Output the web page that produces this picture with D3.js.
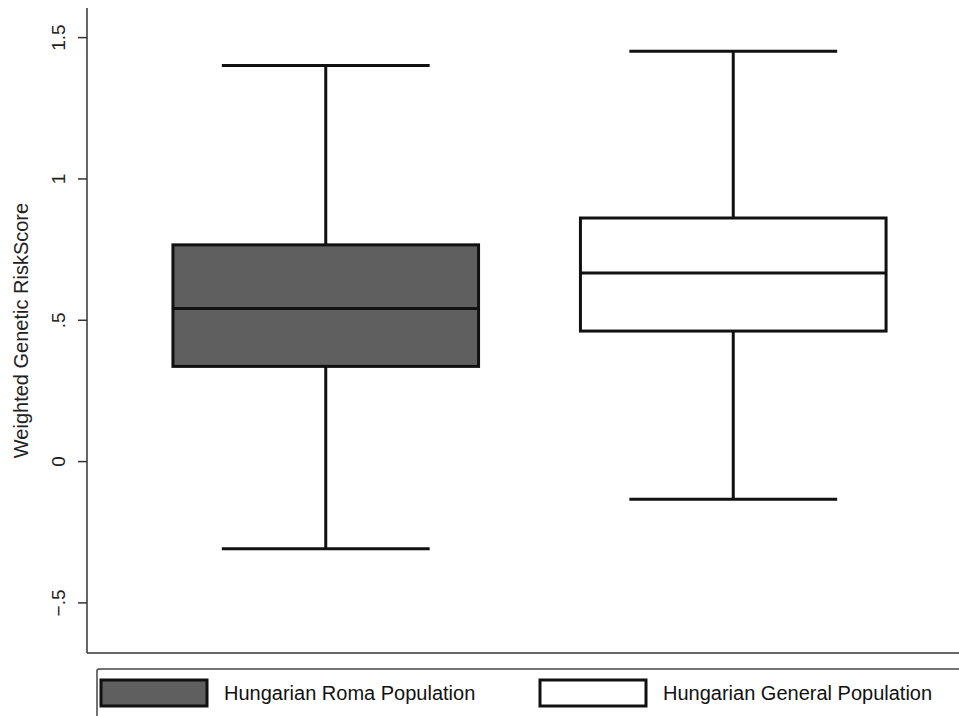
<!DOCTYPE html>
<html>
<head>
<meta charset="utf-8">
<script src="https://cdn.jsdelivr.net/npm/d3@7"></script>
<style>
  body { margin: 0; background: #fff; }
  svg { display: block; font-family: "Liberation Sans", Arial, sans-serif; }
</style>
</head>
<body>
<svg id="viz" width="959" height="716"></svg>
<script>
// groups and box stats
var groups = ["Hungarian Roma Population", "Hungarian General Population"];
var groupFill = ["#5f5f5f", "#ffffff"];
var lowWhisker = [-0.31, -0.135];
var q1 = [0.335, 0.46];
var median = [0.54, 0.665];
var q3 = [0.765, 0.86];
var highWhisker = [1.40, 1.45];
var yTicks = [-0.5, 0, 0.5, 1, 1.5];
var yTickLabels = ["\u2212.5", "0", ".5", "1", "1.5"];

var svg = d3.select('svg#viz');
var W = 959, H = 716;

var x = d3.scaleBand()
    .domain(groups)
    .range([122, 937])
    .paddingInner(0.25)
    .paddingOuter(0.125);

var y = d3.scaleLinear()
    .domain([-0.679, 1.603])
    .range([653, 8]);

var boxes = groups.map(function(g, i) {
    return { name: g, fill: groupFill[i], lo: lowWhisker[i], q1: q1[i], med: median[i], q3: q3[i], hi: highWhisker[i] };
});

var stroke = "#111";

// axis frame
svg.append('line').attr('x1', 87).attr('x2', 87).attr('y1', 8).attr('y2', 653)
    .attr('stroke', '#333').attr('stroke-width', 1.5);
svg.append('line').attr('x1', 87).attr('x2', W).attr('y1', 653).attr('y2', 653)
    .attr('stroke', '#333').attr('stroke-width', 1.5);

var yAxis = d3.axisLeft(y)
    .tickValues(yTicks)
    .tickSize(9)
    .tickPadding(0)
    .tickFormat(function(d, i) { return yTickLabels[i]; });

var gy = svg.append('g').attr('transform', 'translate(87,0)').call(yAxis);
gy.select('.domain').remove();
gy.selectAll('.tick line').attr('stroke', '#333').attr('stroke-width', 1.5);
gy.selectAll('.tick text')
    .attr('transform', 'translate(-29,0) rotate(-90)')
    .attr('x', 0).attr('dy', '0.35em')
    .attr('text-anchor', 'middle')
    .attr('font-size', 19)
    .attr('fill', '#222');

svg.append('text')
    .attr('transform', 'translate(21,' + ((8 + 653) / 2) + ') rotate(-90)')
    .attr('text-anchor', 'middle')
    .attr('dy', '0.35em')
    .attr('font-size', 20)
    .attr('fill', '#222')
    .text('Weighted Genetic RiskScore');

// box plots
var g = svg.selectAll('g.box').data(boxes).enter().append('g').attr('class', 'box');

g.append('line') // whisker stem
    .attr('x1', function(d) { return x(d.name) + x.bandwidth() / 2; })
    .attr('x2', function(d) { return x(d.name) + x.bandwidth() / 2; })
    .attr('y1', function(d) { return y(d.hi); })
    .attr('y2', function(d) { return y(d.lo); })
    .attr('stroke', stroke).attr('stroke-width', 3);

['hi', 'lo'].forEach(function(k) {
    g.append('line') // caps
        .attr('x1', function(d) { return x(d.name) + x.bandwidth() * 0.16; })
        .attr('x2', function(d) { return x(d.name) + x.bandwidth() * 0.84; })
        .attr('y1', function(d) { return y(d[k]); })
        .attr('y2', function(d) { return y(d[k]); })
        .attr('stroke', stroke).attr('stroke-width', 3);
});

g.append('rect')
    .attr('x', function(d) { return x(d.name); })
    .attr('width', x.bandwidth())
    .attr('y', function(d) { return y(d.q3); })
    .attr('height', function(d) { return y(d.q1) - y(d.q3); })
    .attr('fill', function(d) { return d.fill; })
    .attr('stroke', stroke).attr('stroke-width', 3);

g.append('line')
    .attr('x1', function(d) { return x(d.name); })
    .attr('x2', function(d) { return x(d.name) + x.bandwidth(); })
    .attr('y1', function(d) { return y(d.med); })
    .attr('y2', function(d) { return y(d.med); })
    .attr('stroke', stroke).attr('stroke-width', 3);

// legend (runs off the bottom/right edge like the original)
svg.append('rect')
    .attr('x', 97).attr('y', 669).attr('width', 900).attr('height', 80)
    .attr('rx', 2)
    .attr('fill', '#fff').attr('stroke', '#444').attr('stroke-width', 1.5);

var legX = [101, 540];
var leg = svg.selectAll('g.leg').data(boxes).enter().append('g')
    .attr('class', 'leg')
    .attr('transform', function(d, i) { return 'translate(' + legX[i] + ',680)'; });

leg.append('rect')
    .attr('width', 106).attr('height', 26)
    .attr('fill', function(d) { return d.fill; })
    .attr('stroke', stroke).attr('stroke-width', 3);

leg.append('text')
    .attr('x', 123).attr('y', 13).attr('dy', '0.35em')
    .attr('font-size', 20)
    .attr('fill', '#111')
    .text(function(d) { return d.name; });
</script>
</body>
</html>
